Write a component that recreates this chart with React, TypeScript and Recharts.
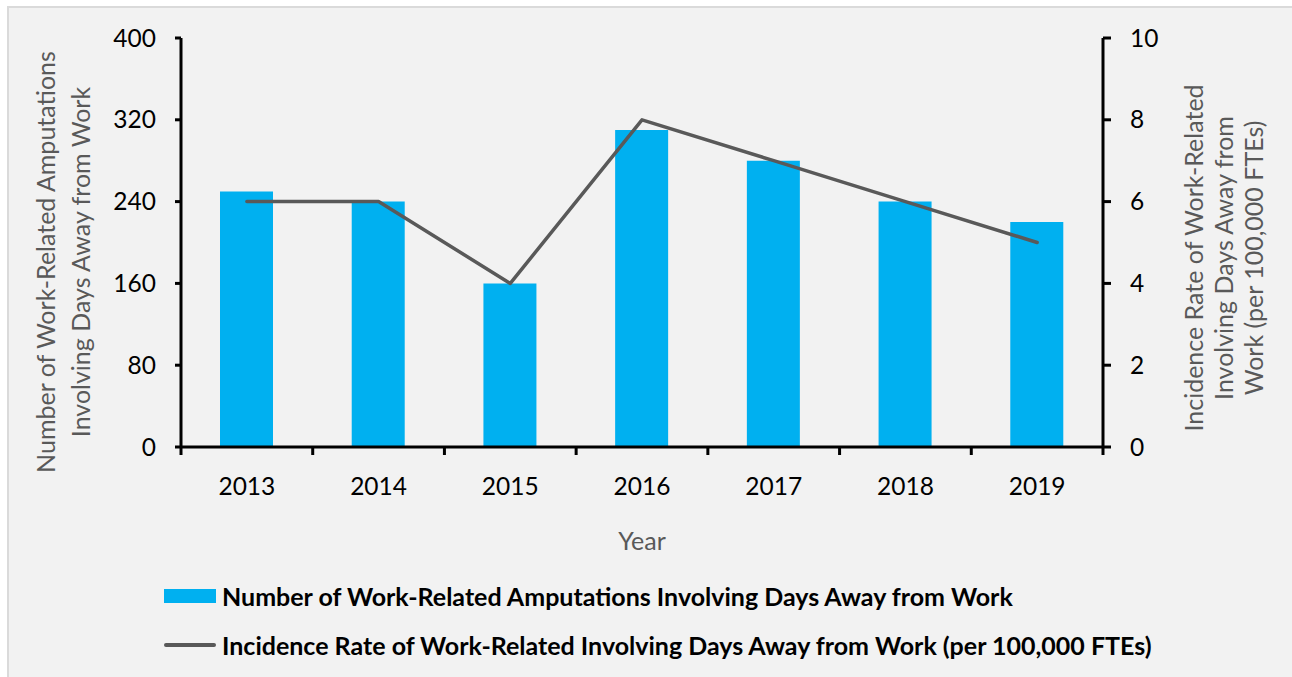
import React from 'react';
import { ComposedChart, Bar, Line, XAxis, YAxis, Legend } from 'recharts';

const years = ['2013', '2014', '2015', '2016', '2017', '2018', '2019'];
const amputations = [250, 240, 160, 310, 280, 240, 220];
const incidenceRate = [6, 6, 4, 8, 7, 6, 5];
const leftTicks = [0, 80, 160, 240, 320, 400];
const rightTicks = [0, 2, 4, 6, 8, 10];

const barName = 'Number of Work-Related Amputations Involving Days Away from Work';
const lineName = 'Incidence Rate of Work-Related Involving Days Away from Work (per 100,000 FTEs)';
const leftTitle = ['Number of Work-Related Amputations', 'Involving Days Away from Work'];
const rightTitle = ['Incidence Rate of Work-Related', 'Involving Days Away from', 'Work (per 100,000 FTEs)'];
const xTitle = 'Year';

const data = years.map((y, i) => ({ year: y, count: amputations[i], rate: incidenceRate[i] }));

const FONT = 'Lato, "Open Sans", sans-serif';
const BAR_COLOR = '#00B0F0';
const LINE_COLOR = '#595959';
const TITLE_COLOR = '#595959';
const FS = 24.5;
const TFS = 25;
const LFS = 25;

const XTick = (props: any) => {
  const { x, y, payload, index } = props;
  const half = payload && payload.offset ? payload.offset : 131.6 / 2;
  const axisY = y - 38;
  return (
    <g>
      <line x1={x - half} x2={x - half} y1={axisY} y2={axisY + 8} stroke="#000" strokeWidth={3} />
      {index === years.length - 1 && (
        <line x1={x + half} x2={x + half} y1={axisY} y2={axisY + 8} stroke="#000" strokeWidth={3} />
      )}
      <text x={x} y={y} textAnchor="middle" dominantBaseline="central" fontSize={FS} fontFamily={FONT} fill="#000">
        {payload.value}
      </text>
    </g>
  );
};

const LeftTitle = () => (
  <g transform="translate(62.5, 262) rotate(-90)">
    {leftTitle.map((t, i) => (
      <text key={i} x={0} y={(i - 0.5) * 35} textAnchor="middle" dominantBaseline="central" fontSize={TFS} fontFamily={FONT} fill={TITLE_COLOR}>
        {t}
      </text>
    ))}
  </g>
);

const RightTitle = () => (
  <g transform="translate(1223, 258) rotate(-90)">
    {rightTitle.map((t, i) => (
      <text key={i} x={0} y={(i - 1) * 30} textAnchor="middle" dominantBaseline="central" fontSize={TFS} fontFamily={FONT} fill={TITLE_COLOR}>
        {t}
      </text>
    ))}
  </g>
);

const XTitle = (props: any) => (
  <text x={642} y={540} textAnchor="middle" dominantBaseline="central" fontSize={TFS} fontFamily={FONT} fill={TITLE_COLOR}>
    {xTitle}
  </text>
);

const LegendContent = () => (
  <div style={{ fontFamily: FONT, fontWeight: 700, fontSize: LFS, color: '#000' }}>
    <div style={{ position: 'absolute', left: 164, top: 580, display: 'flex', alignItems: 'center', whiteSpace: 'nowrap' }}>
      <svg width={52} height={32}>
        <rect x={0} y={9} width={52} height={14} fill={BAR_COLOR} />
      </svg>
      <span style={{ marginLeft: 6 }}>{barName}</span>
    </div>
    <div style={{ position: 'absolute', left: 164, top: 629, display: 'flex', alignItems: 'center', whiteSpace: 'nowrap' }}>
      <svg width={52} height={32}>
        <line x1={2} x2={50} y1={16} y2={16} stroke={LINE_COLOR} strokeWidth={4} strokeLinecap="round" />
      </svg>
      <span style={{ marginLeft: 6 }}>{lineName}</span>
    </div>
  </div>
);

export default function App() {
  return (
    <div style={{ position: 'absolute', left: 0, top: 0, width: 1292, height: 677, background: '#fff', overflow: 'hidden' }}>
      <div
        style={{
          position: 'absolute',
          left: 7,
          top: 6,
          right: 0,
          bottom: 0,
          background: '#f2f2f2',
          borderLeft: '2px solid #dadada',
          borderTop: '2px solid #dadada',
        }}
      />
      <div style={{ position: 'absolute', left: 0, top: 0 }}>
        <ComposedChart
          width={1292}
          height={677}
          data={data}
          margin={{ top: 38, right: 89, bottom: 160, left: 81 }}
          barSize={53}
        >
          <XAxis
            dataKey="year"
            xAxisId={0}
            axisLine={{ stroke: '#000', strokeWidth: 3 }}
            tickLine={false}
            tickSize={8}
            tickMargin={30}
            height={70}
            tick={<XTick />}
            interval={0}
            label={<XTitle />}
          />
          <YAxis
            yAxisId="left"
            orientation="left"
            domain={[0, 400]}
            ticks={leftTicks}
            width={100}
            axisLine={{ stroke: '#000', strokeWidth: 3 }}
            tickLine={{ stroke: '#000', strokeWidth: 3 }}
            tickSize={6}
            tickMargin={19}
            tick={{ fontSize: FS, fontFamily: FONT, fill: '#000' }}
            interval={0}
            label={<LeftTitle />}
          />
          <YAxis
            yAxisId="right"
            orientation="right"
            domain={[0, 10]}
            ticks={rightTicks}
            width={100}
            axisLine={{ stroke: '#000', strokeWidth: 3 }}
            tickLine={{ stroke: '#000', strokeWidth: 3 }}
            tickSize={8}
            tickMargin={19}
            tick={{ fontSize: FS, fontFamily: FONT, fill: '#000' }}
            interval={0}
            label={<RightTitle />}
          />
          <Bar yAxisId="left" dataKey="count" name={barName} fill={BAR_COLOR} isAnimationActive={false} />
          <Line
            yAxisId="right"
            dataKey="rate"
            name={lineName}
            stroke={LINE_COLOR}
            strokeWidth={3.5}
            strokeLinecap="round"
            strokeLinejoin="round"
            dot={false}
            activeDot={false}
            isAnimationActive={false}
          />
          <Legend
            layout="vertical"
            align="center"
            verticalAlign="middle"
            wrapperStyle={{ left: 0, top: 0, width: 1292, height: 0 }}
            content={<LegendContent />}
          />
        </ComposedChart>
      </div>
    </div>
  );
}
